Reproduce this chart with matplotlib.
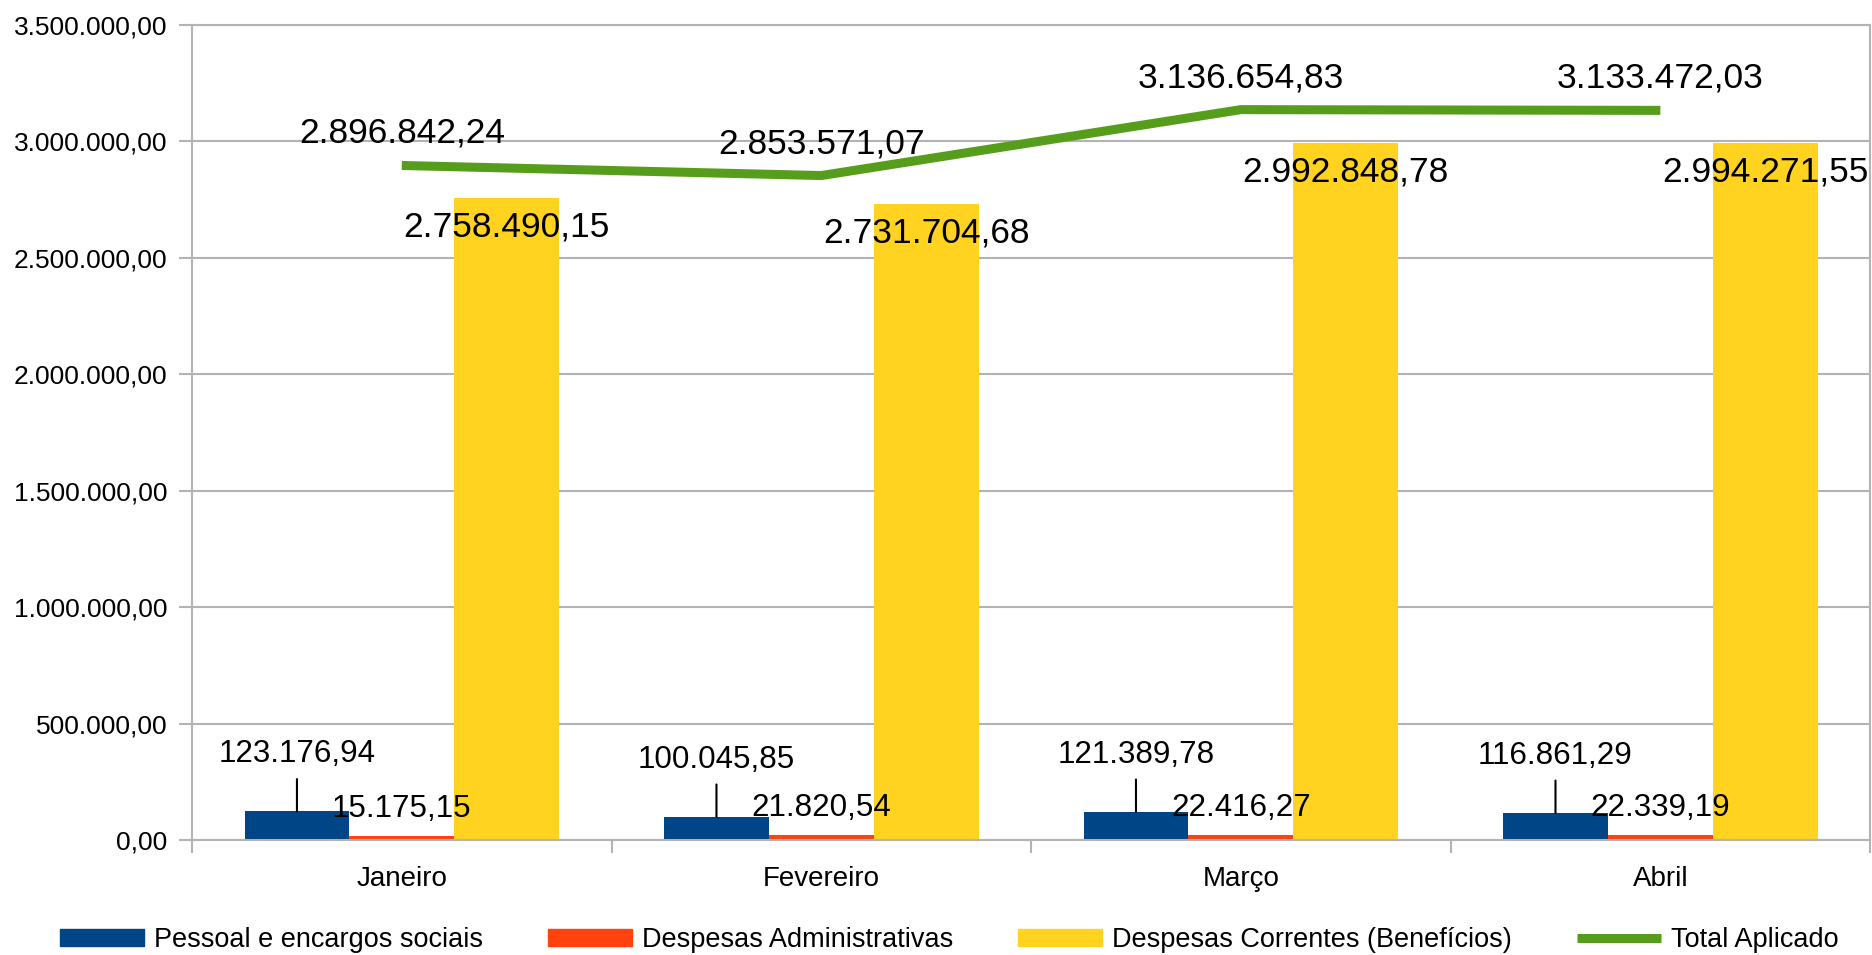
import numpy as np
import matplotlib
matplotlib.use("Agg")
import matplotlib.pyplot as plt
from matplotlib.patches import Patch
from matplotlib.lines import Line2D

plt.rcParams['font.family'] = ['Liberation Sans', 'DejaVu Sans']

months = ['Janeiro', 'Fevereiro', 'Março', 'Abril']
pessoal = [123176.94, 100045.85, 121389.78, 116861.29]
admin = [15175.15, 21820.54, 22416.27, 22339.19]
correntes = [2758490.15, 2731704.68, 2992848.78, 2994271.55]
total = [2896842.24, 2853571.07, 3136654.83, 3133472.03]
y_ticks = [0, 500000, 1000000, 1500000, 2000000, 2500000, 3000000, 3500000]

series_names = ['Pessoal e encargos sociais', 'Despesas Administrativas',
                'Despesas Correntes (Benefícios)', 'Total Aplicado']
c_blue, c_red, c_yellow, c_green = '#004586', '#ff420e', '#ffd320', '#579d1c'
grid_c = '#b3b3b3'


def fmt(v):
    # brazilian number format 1.234,56
    return f"{v:,.2f}".replace(',', 'X').replace('.', ',').replace('X', '.')


fig = plt.figure(figsize=(18.72, 9.55), dpi=100)
ax = fig.add_axes([0.1026, 0.1204, 0.8964, 0.8534])

x = np.arange(len(months))
w = 0.25
ax.bar(x - w, pessoal, w, color=c_blue, zorder=2)
ax.bar(x, admin, w, color=c_red, zorder=2)
ax.bar(x + w, correntes, w, color=c_yellow, zorder=2)
ax.plot(x, total, color=c_green, lw=6.5, solid_capstyle='butt', zorder=3)

ax.set_xlim(-0.5, 3.5)
ax.set_ylim(0, 3500000)
ax.set_yticks(y_ticks)
ax.set_yticklabels([fmt(v) for v in y_ticks])
ax.set_xticks(x)
ax.set_xticklabels(months)
ax.set_xticks(np.arange(-0.5, 3.6, 1), minor=True)

ax.grid(axis='y', color=grid_c, lw=1.5, zorder=0)
ax.tick_params(axis='y', length=9.4, width=1.5, color=grid_c, pad=8.5,
               labelsize=19, labelcolor='black')
ax.tick_params(axis='x', which='major', length=0, pad=19, labelsize=20,
               labelcolor='black')
ax.tick_params(axis='x', which='minor', length=9, width=1.5, color=grid_c)
for s in ax.spines.values():
    s.set_color(grid_c)
    s.set_linewidth(1.5)

# labels
for i in range(len(months)):
    ax.annotate(fmt(total[i]), (x[i], total[i]), xytext=(0, 32),
                textcoords='offset pixels', ha='center', va='center',
                fontsize=25.5, zorder=5)
    ax.annotate(fmt(correntes[i]), (x[i] + w, correntes[i]), xytext=(0, -29),
                textcoords='offset pixels', ha='center', va='center',
                fontsize=25.5, zorder=5)
    ax.annotate(fmt(admin[i]), (x[i], admin[i]), xytext=(0, 27),
                textcoords='offset pixels', ha='center', va='center',
                fontsize=22.6, zorder=5)
    ax.annotate(fmt(pessoal[i]), (x[i] - w, pessoal[i]), xytext=(0, 57),
                textcoords='offset pixels', ha='center', va='center',
                fontsize=22.6, zorder=5,
                arrowprops=dict(arrowstyle='-', color='black', lw=1.5,
                                shrinkA=5, shrinkB=0))

handles = [Patch(color=c_blue), Patch(color=c_red), Patch(color=c_yellow),
           Line2D([], [], color=c_green, lw=6.5, solid_capstyle='butt')]
fig.legend(handles, series_names, loc='center', bbox_to_anchor=(0.507, 0.016),
           ncol=4, frameon=False, fontsize=19.5, handlelength=3.1,
           handleheight=0.6, handletextpad=0.37, columnspacing=2.4)

plt.savefig('out.png', dpi=100)
plt.close()
